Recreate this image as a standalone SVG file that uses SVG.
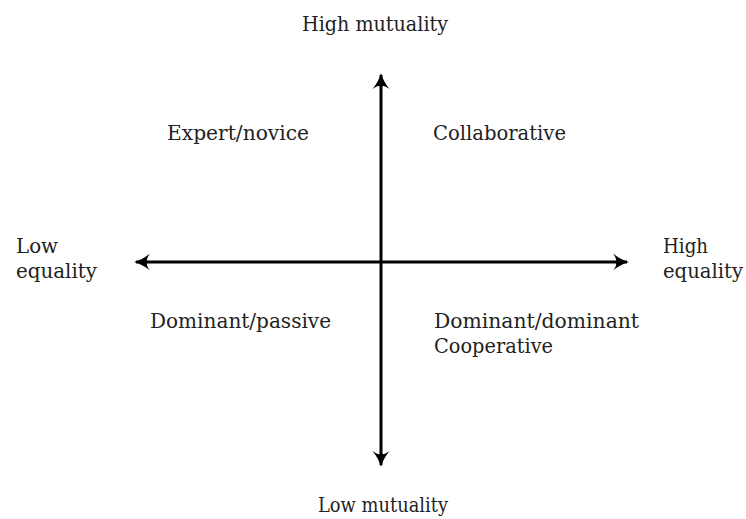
<svg xmlns="http://www.w3.org/2000/svg" width="746" height="519" viewBox="0 0 746 519">
  <style>
    .lbl { font-family: "DejaVu Serif", "Liberation Serif", serif; font-size: 20px; fill: #222; }
    .axis { stroke: #000; stroke-width: 3; fill: none; }
  </style>
  <defs>
    <marker id="head" viewBox="0 0 20 20" refX="17" refY="10" markerWidth="20" markerHeight="20" markerUnits="userSpaceOnUse" orient="auto-start-reverse">
      <path d="M19,10 Q11,8 3,1.5 Q8,8 5,10 Q8,12 3,18.5 Q11,12 19,10 Z" fill="#000"/>
    </marker>
  </defs>
  <rect width="746" height="519" fill="#fff"/>

  <g id="connectors">
    <line id="mutuality-axis" class="axis" x1="381" y1="75" x2="381" y2="465" marker-start="url(#head)" marker-end="url(#head)"/>
    <line id="equality-axis" class="axis" x1="136" y1="262" x2="627" y2="262" marker-start="url(#head)" marker-end="url(#head)"/>
  </g>

  <g id="high-mutuality"><text class="lbl" x="302" y="31" textLength="146" lengthAdjust="spacingAndGlyphs">High mutuality</text></g>
  <g id="low-mutuality"><text class="lbl" x="318" y="512" textLength="130" lengthAdjust="spacingAndGlyphs">Low mutuality</text></g>
  <g id="low-equality">
    <text class="lbl" x="16" y="253" textLength="42" lengthAdjust="spacingAndGlyphs">Low</text>
    <text class="lbl" x="16" y="278" textLength="81" lengthAdjust="spacingAndGlyphs">equality</text>
  </g>
  <g id="high-equality">
    <text class="lbl" x="663" y="253" textLength="45" lengthAdjust="spacingAndGlyphs">High</text>
    <text class="lbl" x="663" y="278" textLength="80" lengthAdjust="spacingAndGlyphs">equality</text>
  </g>
  <g id="expert-novice"><text class="lbl" x="167" y="140" textLength="142" lengthAdjust="spacingAndGlyphs">Expert/novice</text></g>
  <g id="collaborative"><text class="lbl" x="433" y="140" textLength="133" lengthAdjust="spacingAndGlyphs">Collaborative</text></g>
  <g id="dominant-passive"><text class="lbl" x="150" y="328" textLength="181" lengthAdjust="spacingAndGlyphs">Dominant/passive</text></g>
  <g id="dominant-dominant">
    <text class="lbl" x="434" y="328" textLength="205" lengthAdjust="spacingAndGlyphs">Dominant/dominant</text>
    <text class="lbl" x="434" y="353" textLength="119" lengthAdjust="spacingAndGlyphs">Cooperative</text>
  </g>
</svg>
